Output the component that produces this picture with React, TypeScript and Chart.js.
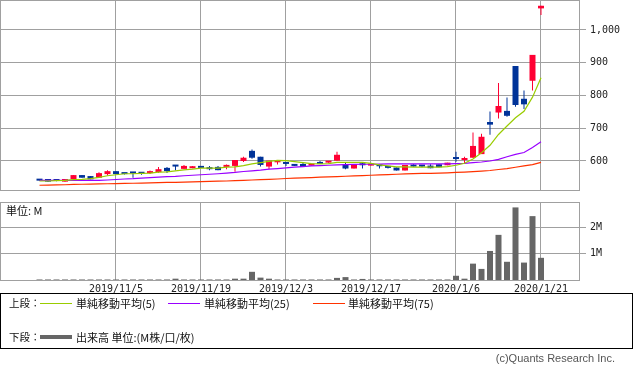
import React, { useEffect, useRef } from 'react';
import { Chart, registerables } from 'chart.js';

Chart.register(...registerables);

// ---- data ----
const dates = [
  '2019/10/21', '2019/10/23', '2019/10/24', '2019/10/25', '2019/10/28', '2019/10/29', '2019/10/30', '2019/10/31', '2019/11/1', '2019/11/5',
  '2019/11/6', '2019/11/7', '2019/11/8', '2019/11/11', '2019/11/12', '2019/11/13', '2019/11/14', '2019/11/15', '2019/11/18', '2019/11/19',
  '2019/11/20', '2019/11/21', '2019/11/22', '2019/11/25', '2019/11/26', '2019/11/27', '2019/11/28', '2019/11/29', '2019/12/2', '2019/12/3',
  '2019/12/4', '2019/12/5', '2019/12/6', '2019/12/9', '2019/12/10', '2019/12/11', '2019/12/12', '2019/12/13', '2019/12/16', '2019/12/17',
  '2019/12/18', '2019/12/19', '2019/12/20', '2019/12/23', '2019/12/24', '2019/12/25', '2019/12/26', '2019/12/27', '2019/12/30', '2020/1/6',
  '2020/1/7', '2020/1/8', '2020/1/9', '2020/1/10', '2020/1/14', '2020/1/15', '2020/1/16', '2020/1/17', '2020/1/20', '2020/1/21',
];
const labelDates = ['2019/11/5', '2019/11/19', '2019/12/3', '2019/12/17', '2020/1/6', '2020/1/21'];

const opens = [
  545, 545, 540, 537, 545, 557, 554, 549, 560, 569,
  563, 563, 566, 563, 566, 579, 585, 576, 578, 585,
  579, 582, 582, 585, 600, 631, 613, 583, 596, 597,
  591, 591, 586, 596, 595, 601, 590, 577, 593, 586,
  586, 583, 580, 571, 588, 586, 586, 590, 587, 611,
  603, 610, 621, 719, 748, 753, 890, 790, 845, 1066,
];
const highs = [
  545, 545, 540, 545, 557, 557, 554, 566, 572, 569,
  563, 563, 566, 571, 582, 582, 585, 588, 585, 585,
  585, 585, 589, 603, 613, 635, 613, 601, 599, 597,
  591, 594, 591, 600, 600, 628, 594, 590, 597, 590,
  586, 583, 580, 588, 590, 586, 590, 590, 595, 628,
  613, 687, 683, 751, 838, 794, 890, 815, 924, 1074,
];
const lows = [
  540, 537, 538, 537, 545, 549, 544, 549, 556, 560,
  559, 549, 558, 560, 563, 563, 572, 576, 578, 579,
  572, 572, 575, 567, 597, 607, 583, 575, 589, 585,
  585, 582, 586, 591, 595, 601, 575, 577, 577, 586,
  577, 577, 571, 571, 583, 581, 578, 581, 587, 598,
  593, 610, 621, 680, 730, 735, 766, 759, 815, 1046,
];
const closes = [
  540, 537, 539, 545, 557, 549, 544, 563, 569, 560,
  560, 562, 561, 568, 575, 569, 583, 585, 582, 579,
  575, 572, 588, 603, 610, 610, 588, 601, 599, 591,
  585, 582, 591, 591, 600, 619, 577, 590, 587, 590,
  584, 579, 571, 588, 583, 583, 578, 581, 595, 606,
  605, 646, 674, 711, 768, 738, 771, 773, 924, 1074,
];
const ma5 = [
  539, 539, 540, 541, 543, 544, 546, 550, 555, 558,
  561, 561, 562, 563, 566, 567, 570, 573, 575, 578,
  578, 578, 581, 582, 586, 591, 595, 599, 602, 601,
  598, 595, 592, 591, 592, 596, 596, 596, 596, 593,
  588, 585, 582, 582, 581, 581, 581, 581, 583, 587,
  593, 606, 625, 648, 681, 707, 732, 752, 795, 854,
];
const ma25 = [
  541, 541, 541, 541, 541, 541, 541, 541, 542, 543.5,
  545, 546, 548, 549.5, 551, 552, 553, 555, 556.5, 558,
  559.5, 561, 563, 565, 568, 570, 572, 575, 577, 579,
  581, 583, 585, 586, 587, 588, 589, 589.5, 590, 590,
  590.5, 591, 591, 591, 591, 591, 591, 591, 591, 592,
  593, 595, 597, 600, 605, 613, 620, 626, 641, 659,
];
const ma75 = [
  526, 526.5, 527, 527.5, 528.5, 529, 529.5, 530, 530.5, 531,
  531.5, 532, 532.5, 533.5, 534, 534.5, 535, 535.5, 536.5, 537,
  537.5, 538.5, 539, 540, 541, 542, 543, 544, 545, 546.5,
  547.5, 548.5, 549.5, 550.5, 551.5, 552.5, 553.5, 554.5, 555.5, 556.5,
  557.5, 558.5, 559.5, 560.5, 561.5, 562, 562.5, 563, 564, 565,
  566, 567.5, 569, 571, 574, 577, 581, 585, 589, 596,
];
// volume in millions
const volumes = [
  0.02, 0.02, 0.02, 0.02, 0.02, 0.02, 0.02, 0.02, 0.02, 0.02,
  0.02, 0.02, 0.02, 0.02, 0.02, 0.02, 0.05, 0.02, 0.02, 0.02,
  0.02, 0.02, 0.02, 0.05, 0.05, 0.31, 0.09, 0.05, 0.02, 0.02,
  0.02, 0.02, 0.02, 0.02, 0.02, 0.08, 0.11, 0.02, 0.04, 0.02,
  0.02, 0.02, 0.02, 0.02, 0.02, 0.02, 0.02, 0.02, 0.02, 0.16,
  0.05, 0.62, 0.42, 1.10, 1.71, 0.69, 2.75, 0.66, 2.42, 0.84,
];
const priceTicks = [600, 700, 800, 900, 1000];
const volumeTicks = [1, 2];
const maLabels = ['単純移動平均(5)', '単純移動平均(25)', '単純移動平均(75)'];
const volumeLabel = '出来高 単位:(M株/口/枚)';

// ---- styles ----
const RED = '#ff0033';
const BLUE = '#003399';
const GRID = '#a0a0a0';
const MA_COLORS = ['#99cc00', '#9900ff', '#ff3300'];
const VOL_COLOR = '#666666';
const TICK_FONT = { family: 'DejaVu Sans Mono', size: 10 };
const X_MIN = -4.647;
const X_MAX = X_MIN + 579 / 8.5;

const framePlugin = {
  id: 'frame',
  afterDraw(chart: any) {
    const { ctx, chartArea: a } = chart;
    ctx.save();
    ctx.strokeStyle = GRID;
    ctx.lineWidth = 1;
    ctx.strokeRect(Math.round(a.left) + 0.5, Math.round(a.top) + 0.5, Math.round(a.right - a.left), Math.round(a.bottom - a.top));
    ctx.restore();
  },
};

const tickIdx = labelDates.map((d) => dates.indexOf(d));

function zeroPad(s: any) {
  s.paddingTop = 0;
  s.paddingBottom = 0;
  s.paddingLeft = 0;
  s.paddingRight = 0;
}

function xScale(showLabels: boolean) {
  return {
    type: 'linear',
    min: X_MIN,
    max: X_MAX,
    bounds: 'data',
    offset: false,
    afterBuildTicks: (s: any) => {
      s.ticks = tickIdx.map((v) => ({ value: v }));
    },
    afterFit: (s: any) => {
      s.height = showLabels ? 20 : 0;
      zeroPad(s);
    },
    grid: { color: GRID, lineWidth: 1, drawTicks: false, offset: false },
    border: { display: false },
    ticks: {
      display: showLabels,
      autoSkip: false,
      maxRotation: 0,
      minRotation: 0,
      padding: 3,
      color: '#222',
      font: TICK_FONT,
      callback: (v: number) => dates[v] ?? '',
    },
  };
}

function yScale(min: number, max: number, ticks: number[], fmt: (v: number) => string) {
  return {
    position: 'right',
    min,
    max,
    bounds: 'data',
    afterBuildTicks: (s: any) => {
      s.ticks = ticks.map((v) => ({ value: v }));
    },
    afterFit: (s: any) => {
      s.width = 54;
      zeroPad(s);
    },
    grid: { color: GRID, lineWidth: 1, drawTicks: true, tickLength: 7, tickColor: GRID },
    border: { display: false },
    ticks: { padding: 4, color: '#222', font: TICK_FONT, callback: fmt },
  };
}

export default function App() {
  const priceRef = useRef<HTMLCanvasElement>(null);
  const volRef = useRef<HTMLCanvasElement>(null);

  useEffect(() => {
    document.body.style.margin = '0';
    const idx = dates.map((_, i) => i);
    const colors = idx.map((i) => (closes[i] >= opens[i] ? RED : BLUE));

    const price = new Chart(priceRef.current as HTMLCanvasElement, {
      type: 'bar',
      data: {
        datasets: [
          { type: 'line', data: idx.map((i) => ({ x: i, y: ma5[i] })), borderColor: MA_COLORS[0], borderWidth: 1.2, pointRadius: 0, order: 0 },
          { type: 'line', data: idx.map((i) => ({ x: i, y: ma25[i] })), borderColor: MA_COLORS[1], borderWidth: 1.2, pointRadius: 0, order: 0 },
          { type: 'line', data: idx.map((i) => ({ x: i, y: ma75[i] })), borderColor: MA_COLORS[2], borderWidth: 1.2, pointRadius: 0, order: 0 },
          {
            type: 'bar',
            data: idx.map((i) => ({ x: i, y: [opens[i], closes[i]] })),
            backgroundColor: colors,
            barThickness: 6,
            minBarLength: 2,
            grouped: false,
            inflateAmount: 0,
            order: 1,
          },
          {
            type: 'bar',
            data: idx.map((i) => ({ x: i, y: [lows[i], highs[i]] })),
            backgroundColor: colors,
            barThickness: 1,
            grouped: false,
            inflateAmount: 0,
            order: 2,
          },
        ] as any,
      },
      options: {
        responsive: false,
        maintainAspectRatio: false,
        animation: false,
        events: [],
        layout: { padding: { left: 0, right: 0, top: 0, bottom: 1 } },
        plugins: { legend: { display: false }, tooltip: { enabled: false } },
        scales: {
          x: xScale(false) as any,
          y: yScale(511.45, 1091.6, priceTicks, (v: number) => String(v).replace(/\B(?=(\d{3})+(?!\d))/g, ',')) as any,
        },
      },
      plugins: [framePlugin],
    });

    const vol = new Chart(volRef.current as HTMLCanvasElement, {
      type: 'bar',
      data: {
        datasets: [
          {
            data: idx.map((i) => ({ x: i, y: volumes[i] })),
            backgroundColor: VOL_COLOR,
            barThickness: 6,
            inflateAmount: 0,
          },
        ] as any,
      },
      options: {
        responsive: false,
        maintainAspectRatio: false,
        animation: false,
        events: [],
        layout: { padding: { left: 0, right: 0, top: 2, bottom: 0 } },
        plugins: { legend: { display: false }, tooltip: { enabled: false } },
        scales: {
          x: xScale(true) as any,
          y: yScale(0, 2.955, volumeTicks, (v: number) => v + 'M') as any,
        },
      },
      plugins: [framePlugin],
    });

    return () => {
      price.destroy();
      vol.destroy();
    };
  }, []);

  const txt = (left: number, yc: number, s: string, extra: any = {}) => (
    <span style={{ position: 'absolute', left, top: yc - 7, lineHeight: '14px', fontSize: 10.5, whiteSpace: 'nowrap', color: '#111', ...extra }}>{s}</span>
  );
  const line = (left: number, yc: number, color: string, h: number) => (
    <div style={{ position: 'absolute', left, top: yc - Math.floor(h / 2), width: 32, height: h, background: color }} />
  );

  return (
    <div style={{ position: 'absolute', left: 0, top: 0, width: 633, height: 373, background: '#fff', fontFamily: '"Noto Sans CJK JP", "Noto Sans", sans-serif', overflow: 'hidden' }}>
      <canvas ref={priceRef} width={633} height={191} style={{ position: 'absolute', left: 0, top: 0, width: 633, height: 191 }} />
      <canvas ref={volRef} width={633} height={100} style={{ position: 'absolute', left: 0, top: 200, width: 633, height: 100 }} />
      {txt(6, 210, '単位: M', { fontSize: 11 })}
      <div style={{ position: 'absolute', left: 0, top: 293, width: 633, height: 56, border: '1px solid #000', boxSizing: 'border-box' }} />
      {txt(9, 303, '上段：')}
      {line(40, 303, MA_COLORS[0], 1)}
      {txt(76, 303, maLabels[0], { fontSize: 11 })}
      {line(168, 303, MA_COLORS[1], 1)}
      {txt(204, 303, maLabels[1], { fontSize: 11 })}
      {line(313, 303, MA_COLORS[2], 1)}
      {txt(348, 303, maLabels[2], { fontSize: 11 })}
      {txt(9, 337, '下段：')}
      {line(40, 337, VOL_COLOR, 4)}
      {txt(76, 337, volumeLabel, { fontSize: 11 })}
      <span style={{ position: 'absolute', right: 18, top: 351, lineHeight: '14px', fontSize: 11, color: '#555', fontFamily: '"Liberation Sans", Arial, sans-serif' }}>(c)Quants Research Inc.</span>
    </div>
  );
}
